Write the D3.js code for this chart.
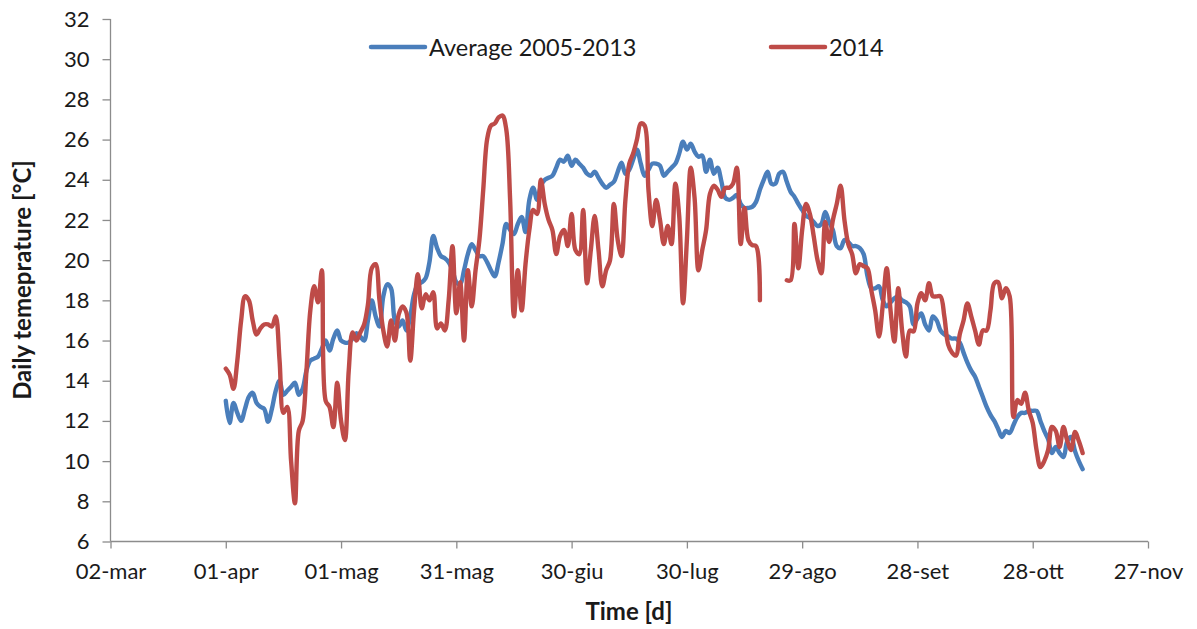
<!DOCTYPE html>
<html>
<head>
<meta charset="utf-8">
<script src="https://cdn.jsdelivr.net/npm/d3@7"></script>
<style>
  html, body { margin: 0; padding: 0; background: #fff; }
  svg { display: block; }
  text { font-family: Lato, "Open Sans", sans-serif; fill: #1a1a1a; }
</style>
</head>
<body>
<svg id="chart" width="1197" height="629"></svg>
<script>
// Day index counted from 02-mar (day 0); both series begin on 01-apr (day 30)
const startDay = 30;

// Daily mean temperature, average of 2005-2013 (°C)
const average = [
  13.0, 11.9, 12.9, 12.4, 12.0, 12.6, 13.2, 13.4, 12.9, 12.7,
  12.6, 11.96, 12.6, 13.5, 14.0, 13.3, 13.5, 13.7, 13.9, 13.3,
  13.6, 14.5, 15.0, 15.1, 15.2, 15.6, 16.0, 15.5, 16.1, 16.5,
  16.0, 15.9, 15.9, 16.1, 16.36, 16.2, 16.0, 17.0, 18.0, 17.2,
  16.7, 18.2, 18.8, 18.6, 17.0, 16.7, 17.0, 16.5, 17.2, 18.3,
  18.8, 18.9, 19.1, 19.9, 21.2, 20.6, 20.2, 20.1, 19.9, 19.5,
  18.9, 18.8, 19.5, 20.3, 20.8, 20.5, 20.2, 20.2, 19.9, 19.5,
  19.2, 19.9, 20.8, 21.8, 21.5, 21.3, 21.8, 22.15, 21.4, 23.0,
  23.6, 23.0, 23.7, 24.0, 24.1, 24.2, 24.6, 25.0, 24.9, 25.2,
  24.7, 25.0, 24.8, 24.6, 24.3, 24.2, 24.4, 24.1, 23.8, 23.6,
  23.75, 23.9, 24.4, 24.85, 24.3, 24.5, 25.0, 25.5, 24.8, 24.2,
  24.5, 24.8, 24.8, 24.7, 24.2, 24.4, 24.6, 24.8, 25.3, 25.9,
  25.5, 25.8, 25.4, 25.15, 25.2, 24.4, 25.0, 24.3, 24.6, 23.9,
  23.1, 23.0, 23.1, 23.25, 22.8, 22.6, 22.6, 22.65, 22.9, 23.5,
  24.0, 24.4, 23.8, 23.8, 24.3, 24.4, 23.9, 23.4, 23.15, 22.8,
  22.5, 22.2, 22.1, 21.9, 21.7, 21.8, 22.4, 21.9, 21.5, 20.7,
  20.6, 21.0, 20.9, 20.7, 20.7, 20.6, 20.3, 19.2, 18.6, 18.6,
  18.7, 18.0, 17.7, 17.9, 18.1, 18.2, 18.0, 17.9, 17.7, 16.8,
  17.1, 17.35, 16.8, 16.5, 17.2, 17.0, 16.5, 16.3, 16.2, 16.1,
  16.1, 15.9, 15.4, 14.9, 14.5, 14.2, 13.7, 13.2, 12.7, 12.3,
  12.0, 11.6, 11.2, 11.5, 11.4, 11.8, 12.2, 12.4, 12.4, 12.5,
  12.5, 12.5, 12.0, 11.5, 11.1, 10.4, 10.7, 10.4, 10.2, 11.0,
  11.2, 10.5, 10.0, 9.6
];

// Daily mean temperature, 2014 (°C); null marks days without a record
const year2014 = [
  14.6, 14.3, 13.6, 15.0, 17.0, 18.2, 18.0, 17.0, 16.3, 16.6,
  16.8, 16.8, 16.7, 17.2, 15.0, 12.4, 12.7, 10.0, 7.9, 11.5,
  12.0, 14.5, 17.5, 18.7, 17.9, 19.5, 13.0, 12.7, 11.7, 13.9,
  12.0, 11.05, 14.5, 16.4, 16.0, 16.4, 16.8, 17.8, 19.6, 19.8,
  18.0, 16.5, 15.7, 17.0, 16.0, 17.3, 17.7, 17.4, 15.0, 17.5,
  19.3, 17.6, 18.3, 18.0, 18.4, 16.6, 16.85, 16.5, 18.0, 20.7,
  17.35, 18.9, 16.0, 19.5, 17.7, 19.5, 21.0, 23.5, 26.0, 26.7,
  26.8, 27.1, 27.2, 26.5, 23.0, 17.2, 19.5, 17.5, 19.8, 21.5,
  22.5, 22.3, 24.0, 22.8, 22.0, 21.5, 20.3, 21.2, 21.5, 20.7,
  22.3, 20.5, 20.3, 22.5, 18.85, 20.5, 22.2, 20.5, 18.7, 19.5,
  20.0, 22.8, 21.0, 20.2, 23.0, 24.8, 25.3, 26.0, 26.8, 26.7,
  23.5, 21.7, 23.0, 22.0, 20.8, 21.7, 20.8, 23.8, 22.2, 17.85,
  21.0, 24.6, 23.1, 19.5, 20.5, 21.5, 23.3, 23.7, 23.5, 23.15,
  23.6, 23.6, 23.8, 24.6, 20.8, 22.6, 21.0, 20.75, 20.7, 18.0,
  null, null, null, null, null, null, 19.0, 19.0, 21.8, 19.6,
  21.5, 22.8, 22.3, 21.2, 20.0, 19.35, 21.9, 20.9, 22.0, 22.8,
  23.7, 22.0, 20.8, 20.3, 19.35, 19.8, 19.7, 19.6, 18.5, 17.5,
  16.2, 17.8, 19.6, 17.5, 15.95, 18.6, 16.5, 15.2, 16.5, 16.45,
  17.85, 18.35, 18.0, 18.85, 18.2, 18.2, 18.2, 17.2, 15.8, 15.4,
  15.25, 16.3, 17.0, 17.85, 17.2, 16.5, 15.8, 16.5, 16.5, 17.5,
  18.85, 18.9, 18.1, 18.6, 18.2, 12.2, 13.04, 12.85, 13.4, 12.5,
  11.9, 10.55, 9.7, 10.0, 10.55, 11.7, 11.5, 10.7, 11.7, 11.0,
  10.55, 11.45, 11.0, 10.4
];

// Date tick labels, one every 30 days from 02-mar
const xTickLabels = ["02-mar", "01-apr", "01-mag", "31-mag", "30-giu",
                     "30-lug", "29-ago", "28-set", "28-ott", "27-nov"];
const yTicks = [6, 8, 10, 12, 14, 16, 18, 20, 22, 24, 26, 28, 30, 32];

const seriesNames = ["Average 2005-2013", "2014"];
const seriesColors = ["#4a7ebb", "#be4b48"];

const svg = d3.select("#chart");
const margin = { left: 110.5, right: 49, top: 19, bottom: 87.5 };
const W = 1197, H = 629;

const x = d3.scaleLinear()
  .domain([0, 270])
  .range([margin.left, W - margin.right]);
const y = d3.scaleLinear()
  .domain([6, 32])
  .range([H - margin.bottom, margin.top]);

const axisColor = "#8c8c8c";
const tickFont = "22px";

// X axis
const xAxis = d3.axisBottom(x)
  .tickValues(d3.range(0, 271, 30))
  .tickFormat((d, i) => xTickLabels[i])
  .tickSize(7)
  .tickPadding(15);
const gx = svg.append("g")
  .attr("transform", `translate(0,${y(6)})`)
  .call(xAxis);
gx.selectAll("path, line").attr("stroke", axisColor).attr("stroke-width", 1.3);
gx.selectAll("text").style("font-size", tickFont).attr("fill", "#1a1a1a");

// Y axis
const yAxis = d3.axisLeft(y)
  .tickValues(yTicks)
  .tickSize(8)
  .tickPadding(13);
const gy = svg.append("g")
  .attr("transform", `translate(${x(0)},0)`)
  .call(yAxis);
gy.selectAll("path, line").attr("stroke", axisColor).attr("stroke-width", 1.3);
gy.selectAll("text").style("font-size", tickFont).attr("fill", "#1a1a1a");
gx.select(".domain").attr("d", `M${x(0)},0H${x(270)}`);
gy.select(".domain").attr("d", `M0,${y(32)}V${y(6)}`);

// Series lines
const toPoints = arr => arr.map((v, i) => ({ day: startDay + i, v }));
const line = d3.line()
  .defined(d => d.v !== null)
  .x(d => x(d.day))
  .y(d => y(d.v))
  .curve(d3.curveCatmullRom.alpha(0.5));

[average, year2014].forEach((arr, i) => {
  svg.append("path")
    .datum(toPoints(arr))
    .attr("fill", "none")
    .attr("stroke", seriesColors[i])
    .attr("stroke-width", 4.4)
    .attr("stroke-linejoin", "round")
    .attr("stroke-linecap", "round")
    .attr("d", line);
});

// Legend
const legendItems = [
  { x1: 371, x2: 425, tx: 429 },
  { x1: 771, x2: 825, tx: 829 }
];
legendItems.forEach((l, i) => {
  svg.append("line")
    .attr("x1", l.x1).attr("x2", l.x2)
    .attr("y1", 47).attr("y2", 47)
    .attr("stroke", seriesColors[i])
    .attr("stroke-width", 4.5)
    .attr("stroke-linecap", "round");
  svg.append("text")
    .attr("x", l.tx).attr("y", 56)
    .style("font-size", "23.5px")
    .text(seriesNames[i]);
});

// Axis titles
svg.append("text")
  .attr("x", 629).attr("y", 620)
  .attr("text-anchor", "middle")
  .style("font-size", "24px")
  .style("font-weight", "bold")
  .text("Time [d]");

svg.append("text")
  .attr("transform", `translate(31,${280}) rotate(-90)`)
  .attr("text-anchor", "middle")
  .style("font-size", "24px")
  .style("font-weight", "bold")
  .text("Daily temeprature [°C]");
</script>
</body>
</html>
